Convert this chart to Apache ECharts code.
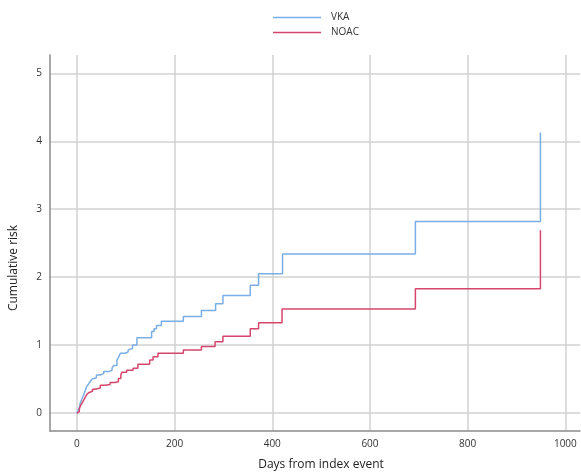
<!DOCTYPE html>
<html>
<head>
<meta charset="utf-8">
<script src="https://cdn.jsdelivr.net/npm/echarts@6/dist/echarts.min.js"></script>
<style>html,body{margin:0;padding:0;background:#fff}#c{width:581px;height:476px}</style>
</head>
<body>
<div id="c"></div>
<script>
const seriesNames = ['VKA', 'NOAC'];
const vkaDays   = [0,2,5,7,10,14,17,20,24,27,31,34,40,48,55,65,72,75,82,86,89,99,105,109,114,123,153,158,163,173,218,255,284,299,355,372,421,693,949];
const vkaRisk   = [0,0.03,0.08,0.15,0.2,0.27,0.33,0.39,0.43,0.46,0.5,0.52,0.56,0.58,0.61,0.63,0.66,0.70,0.78,0.83,0.88,0.90,0.93,0.95,1.0,1.11,1.20,1.24,1.29,1.35,1.42,1.51,1.61,1.73,1.88,2.05,2.34,2.82,4.13];
const noacDays  = [0,2,5,7,10,14,17,20,24,27,32,37,48,58,68,78,85,90,92,102,115,125,149,156,166,218,255,283,299,355,372,420,693,949];
const noacRisk  = [0,0.02,0.06,0.10,0.14,0.19,0.23,0.27,0.30,0.32,0.35,0.37,0.41,0.42,0.45,0.46,0.51,0.56,0.60,0.63,0.66,0.72,0.78,0.83,0.88,0.93,0.98,1.05,1.13,1.24,1.33,1.53,1.83,2.69];
const xTicks = [0,200,400,600,800,1000];
const yTicks = [0,1,2,3,4,5];

const zip = (a,b) => a.map((d,i)=>[d,b[i]]);
const font = 'Open Sans';
const chart = echarts.init(document.getElementById('c'));
chart.setOption({
  animation: false,
  backgroundColor: '#fff',
  legend: {
    orient: 'vertical', left: 268, top: 6, itemWidth: 48, itemHeight: 1.5, itemGap: 2,
    icon: 'rect',
    textStyle: {fontFamily: font, fontSize: 10, color: '#333', lineHeight: 13, padding: [0,0,0,5]},
    data: seriesNames
  },
  grid: {left: 50, right: 1, top: 55, bottom: 43, containLabel: false},
  xAxis: {
    type: 'value', min: -55, max: 1030,
    name: 'Days from index event', nameLocation: 'middle', nameGap: 28,
    nameTextStyle: {fontFamily: font, fontSize: 12, color: '#222', padding:[0,0,0,12]},
    axisLine: {show: true, onZero: false, lineStyle: {color: '#8a8a8a', width: 1.5}},
    axisTick: {show: false, customValues: xTicks},
    axisLabel: {customValues: xTicks, formatter: v => String(v), fontFamily: font, fontSize: 10, color: '#333', margin: 8},
    splitLine: {show: true, lineStyle: {color: '#d2d2d2', width: 1.5}}
  },
  yAxis: {
    type: 'value', min: -0.264, max: 5.27,
    name: 'Cumulative risk', nameLocation: 'middle', nameGap: 30, nameRotate: 90,
    nameTextStyle: {fontFamily: font, fontSize: 12, color: '#222', padding:[0,0,0,-50]},
    axisLine: {show: true, onZero: false, lineStyle: {color: '#8a8a8a', width: 1.5}},
    axisTick: {show: false, customValues: yTicks},
    axisLabel: {customValues: yTicks, formatter: v => String(v), fontFamily: font, fontSize: 10, color: '#333', margin: 8},
    splitLine: {show: true, lineStyle: {color: '#d2d2d2', width: 1.5}}
  },
  series: [
    {name: 'VKA', type: 'line', step: 'end', symbol: 'none', data: zip(vkaDays, vkaRisk),
     lineStyle: {color: '#7aaee6', width: 1.5}, itemStyle: {color: '#7aaee6'}},
    {name: 'NOAC', type: 'line', step: 'end', symbol: 'none', data: zip(noacDays, noacRisk),
     lineStyle: {color: '#d6456c', width: 1.5}, itemStyle: {color: '#d6456c'}}
  ]
});
</script>
</body>
</html>
